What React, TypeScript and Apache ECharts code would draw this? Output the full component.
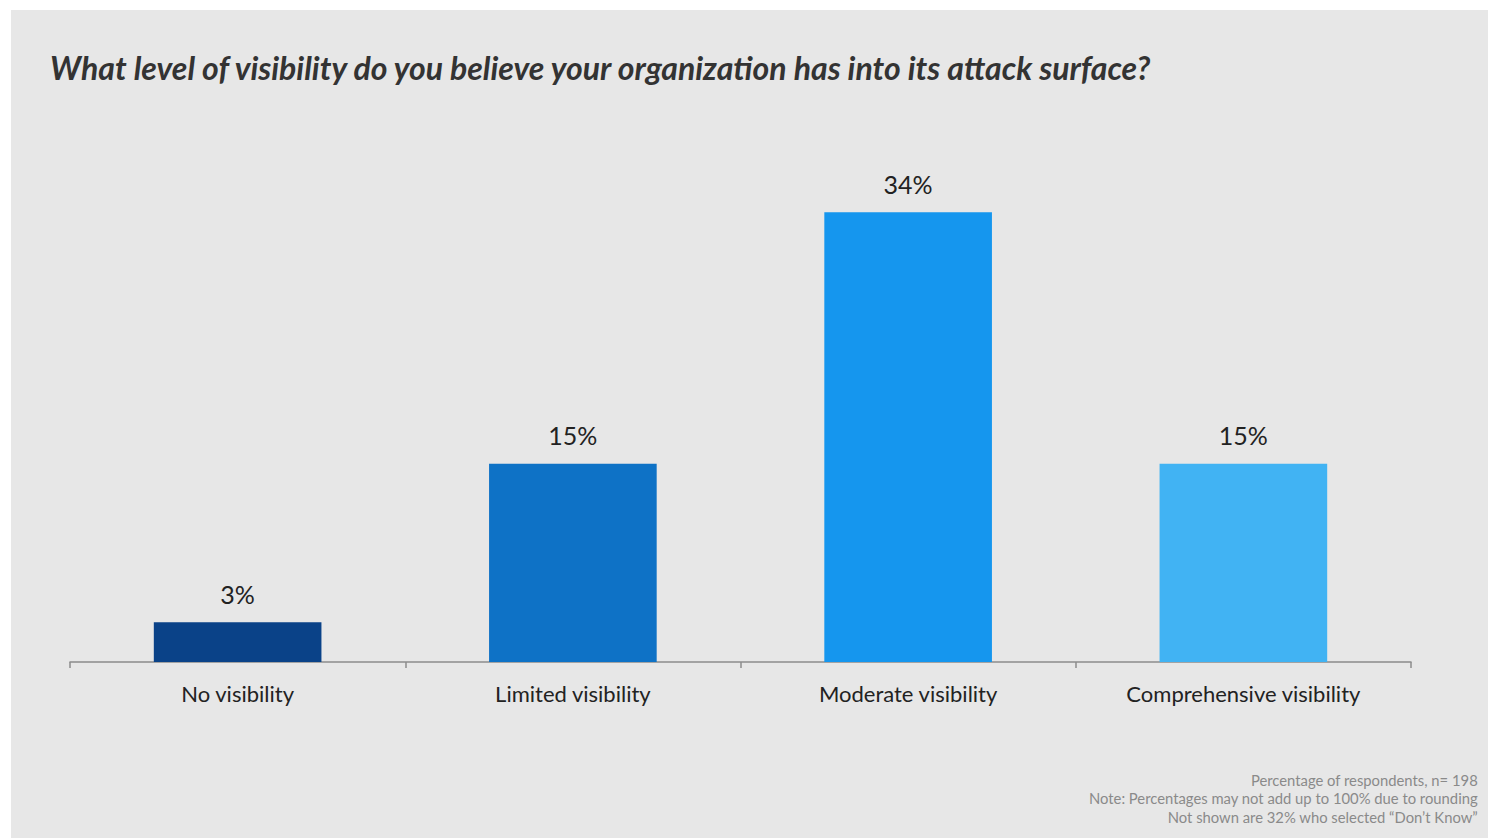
import React, { useEffect, useRef } from "react";
import * as echarts from "echarts";

const categories = ["No visibility", "Limited visibility", "Moderate visibility", "Comprehensive visibility"];
const values = [3, 15, 34, 15];
const barColors = ["#0a4288", "#0e72c6", "#1596ee", "#41b3f3"];
const title = "What level of visibility do you believe your organization has into its attack surface?";
const notes = [
  "Percentage of respondents, n= 198",
  "Note: Percentages may not add up to 100% due to rounding",
  "Not shown are 32% who selected \u201cDon\u2019t Know\u201d",
];

export default function App() {
  const ref = useRef<HTMLDivElement>(null);
  useEffect(() => {
    if (!ref.current) return;
    const chart = echarts.init(ref.current, undefined, { renderer: "svg" });
    const font = "Lato, 'Open Sans', sans-serif";
    chart.setOption({
      animation: false,
      backgroundColor: "#ffffff",
      grid: { left: 70, right: 77, top: 133, bottom: 176 },
      xAxis: {
        type: "category",
        data: categories,
        axisLine: { lineStyle: { color: "#8c8c8c", width: 1.5 } },
        axisTick: { show: true, length: 6, alignWithLabel: false, lineStyle: { color: "#8c8c8c", width: 1.5 } },
        axisLabel: { color: "#222222", fontSize: 22, fontFamily: font, margin: 20 },
      },
      yAxis: { type: "value", min: 0, max: 40, show: false, splitLine: { show: false } },
      series: [
        {
          type: "bar",
          barWidth: "50%",
          data: values.map((v, i) => ({ value: v, itemStyle: { color: barColors[i] } })),
          label: {
            show: true,
            position: "top",
            distance: 16,
            formatter: "{c}%",
            color: "#222222",
            fontSize: 25,
            fontFamily: font,
          },
        },
      ],
      graphic: [
        { type: "rect", z: -10, silent: true, shape: { x: 11, y: 10, width: 1477, height: 828 }, style: { fill: "#e7e7e7" } },
        {
          type: "text",
          left: 50,
          top: 51,
          style: { text: title, fontSize: 32, fontWeight: "bold", fontStyle: "italic", fill: "#333333", fontFamily: font },
        },
        ...notes.map((t, i) => ({
          type: "text",
          right: 10,
          top: 772 + i * 18.7,
          style: { text: t, fontSize: 14.8, fill: "#8a8a8a", fontFamily: font },
        })),
      ],
    });
    return () => chart.dispose();
  }, []);
  return <div ref={ref} style={{ position: "absolute", left: 0, top: 0, width: 1488, height: 838 }} />;
}
